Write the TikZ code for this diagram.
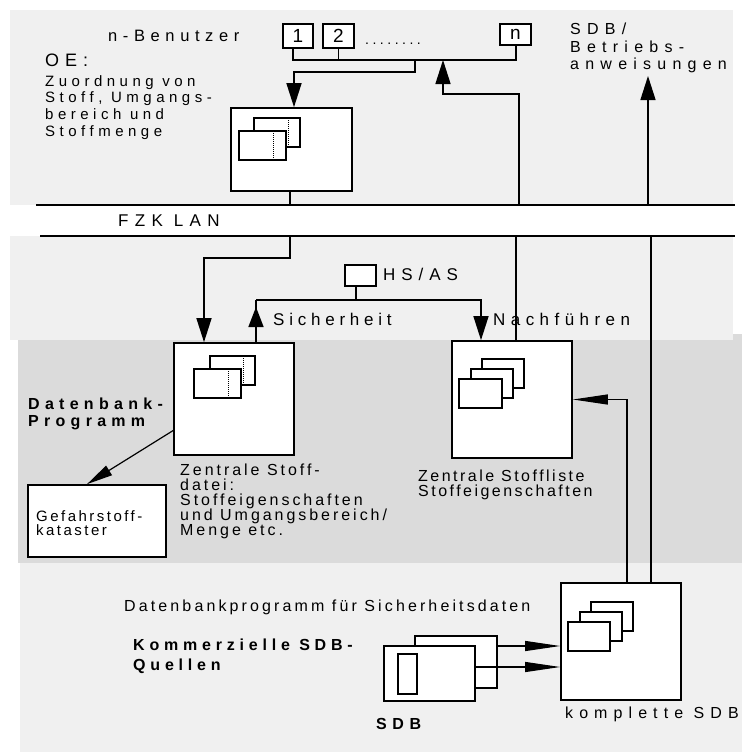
\documentclass[tikz,border=0pt]{standalone}
\usepackage{fontspec}
\setmainfont{Liberation Sans}
\usetikzlibrary{arrows.meta}
\definecolor{lightbg}{gray}{0.94}
\definecolor{darkbg}{gray}{0.86}
\newcommand{\tf}[3]{\fontsize{#1}{#2}\selectfont\addfontfeature{LetterSpace=#3}\lineskiplimit=-6pt}
\begin{document}
\begin{tikzpicture}[x=1pt,y=-1pt,
  bx/.style={draw, line width=1.7pt, fill=white, inner sep=0pt},
  conn/.style={line width=1.5pt},
  ahead/.style={-{Triangle[length=24pt,width=15pt]}},
  thinhead/.style={-{Triangle[length=35pt,width=10pt]}},
  lbl/.style={inner sep=0pt, anchor=base west},
  blk/.style={inner sep=0pt, anchor=north west, align=left},
  sm/.style={draw, line width=1.4pt, fill=white},
  dt/.style={line width=0.9pt, dash pattern=on 1pt off 1pt}
]
\useasboundingbox (0,0) rectangle (742,753);
% backgrounds
\fill[lightbg] (10,10) rectangle (733,205);
\fill[lightbg] (10,236) rectangle (733,340);
\fill[darkbg] (18,340) rectangle (742,563);
\fill[darkbg] (733,334) rectangle (742,340);
\fill[lightbg] (20,563) rectangle (742,752);

% main boxes
\node[bx, minimum width=121pt, minimum height=83pt] (oe) at (291.5,149.5) {};
\node[bx, minimum width=120pt, minimum height=112pt] (zsd) at (234,399) {};
\node[bx, minimum width=120pt, minimum height=117pt] (zsl) at (512,399.5) {};
\node[bx, minimum width=120pt, minimum height=117pt] (ksdb) at (621,641.5) {};
\node[bx, minimum width=138pt, minimum height=72pt] (gk) at (97,521) {};
\node[bx, minimum width=31pt, minimum height=21pt] (hs) at (360.5,275.5) {};
\node[bx, minimum width=30pt, minimum height=24pt, font=\fontsize{19}{19}\selectfont] (u1) at (298,36) {1};
\node[bx, minimum width=31pt, minimum height=24pt, font=\fontsize{19}{19}\selectfont] (u2) at (338.5,36) {2};
\node[bx, minimum width=31pt, minimum height=21pt, font=\fontsize{19}{19}\selectfont] (un) at (515.5,34.5) {n};

% inner pictograms
\draw[sm] (254,118) rectangle (300,147); \draw[dt] (288,118) -- (288,147);
\draw[sm] (239,131) rectangle (286,160); \draw[dt] (273,131) -- (273,160);
\draw[sm] (210,356) rectangle (255,385); \draw[dt] (243,356) -- (243,385);
\draw[sm] (194,369) rectangle (241,398); \draw[dt] (228,369) -- (228,398);
\draw[sm] (482,359) rectangle (524,388);
\draw[sm] (471,369) rectangle (513,398);
\draw[sm] (459,379) rectangle (502,408);
\draw[sm] (591,602) rectangle (633,631);
\draw[sm] (580,612) rectangle (622,641);
\draw[sm] (568,622) rectangle (610,651);
\node[bx, line width=1.4pt, minimum width=82pt, minimum height=52pt] (sdbb) at (456,662) {};
\node[bx, line width=1.4pt, minimum width=91pt, minimum height=55pt] (sdbf) at (429.5,673.5) {};
\draw[sm] (398,654) rectangle (417,694);

% LAN
\coordinate (lanTL) at (36,205); \coordinate (lanTR) at (735,205);
\coordinate (lanBL) at (40,236); \coordinate (lanBR) at (735,236);
\draw[conn] (lanTL) -- (lanTR);
\draw[conn] (lanBL) -- (lanBR);

% texts
\node[lbl, font=\tf{16.5}{16.5}{34}] (nben) at (108,41) {n-Benutzer};
\node[lbl, font=\tf{18}{18}{33}] (oet) at (45,66.7) {OE:};
\node[blk, font=\tf{15}{16.7}{30}] (zuo) at (45,75) {Zuordnung von\\Stoff, Umgangs-\\bereich und\\Stoffmenge};
\node[lbl, font=\tf{14}{14}{25}] (dots) at (365,44) {........};
\node[blk, font=\tf{16}{17.8}{39}] (sdbt) at (570,22.6) {SDB/\\Betriebs-\\anweisungen};
\node[lbl, font=\tf{17}{17}{37}] (lan) at (118,226.7) {FZK LAN};
\node[lbl, font=\tf{17}{17}{35}] (hst) at (383,280.7) {HS/AS};
\node[lbl, font=\tf{17}{17}{28}] (sich) at (273,325) {Sicherheit};
\node[lbl, font=\tf{17}{17}{32}] (nach) at (493,325) {Nachführen};
\node[blk, font=\bfseries\tf{16}{17}{33}] (dbp) at (28,397.6) {Datenbank-\\Programm};
\node[blk, font=\tf{16}{15}{18.5}] (zsdt) at (180,463.3) {Zentrale Stoff-\\datei:\\Stoffeigenschaften\\und Umgangsbereich/\\Menge etc.};
\node[blk, font=\tf{15}{14}{16.5}] (gkt) at (36,510.7) {Gefahrstoff-\\kataster};
\node[blk, font=\tf{16}{15}{15.5}] (zslt) at (418,469.3) {Zentrale Stoffliste\\Stoffeigenschaften};
\node[lbl, font=\tf{16}{16}{19.5}] (dbs) at (124,611.7) {Datenbankprogramm für Sicherheitsdaten};
\node[blk, font=\bfseries\tf{16}{20}{30}] (kom) at (133,638.3) {Kommerzielle SDB-\\Quellen};
\node[lbl, font=\bfseries\tf{16}{16}{35}] (sdbl) at (376,729.3) {SDB};
\node[lbl, font=\tf{16}{16}{38}] (kpl) at (565,718) {komplette SDB};

% connectors top
\coordinate (busL) at (293,60); \coordinate (busR) at (516,60);
\draw[conn] (u1.south -| busL) -- (busL) -- (busR) -- (un.south -| busR);
\draw[conn] (u2.south) -- (u2.south |- busL);
\coordinate (tap) at (415,60);
\draw[conn, ahead] (tap) -- (415,72) -| ([xshift=2.5pt]oe.north);
\coordinate (lanT1) at (519,205); \coordinate (tap2) at (443,60);
\draw[conn, ahead] (lanT1) -- (519,94) -| (tap2);
\draw[conn] ([xshift=-1.5pt]oe.south) -- ([xshift=-1.5pt]oe.south |- lanTL);
\coordinate (lanT2) at (648,205); \coordinate (sdbTip) at (648,76);
\draw[conn, ahead] (lanT2) -- (sdbTip);

% middle connectors
\coordinate (lanB1) at (290,236);
\draw[conn, ahead] (lanB1) -- (290,258) -| ([xshift=-30pt]zsd.north);
\coordinate (sj) at (256,300);
\draw[conn] ([xshift=22pt]zsd.north) -- (sj);
\draw[conn, -{Triangle[length=20pt,width=15pt]}, shorten >=7pt] ([xshift=22pt]zsd.north) -- (sj);
\draw[conn, ahead] (sj) -| ([xshift=-31pt]zsl.north);
\draw[conn] ([xshift=-4.5pt]hs.south) -- ([xshift=-4.5pt]hs.south |- sj);
\coordinate (lanB2) at (516,236);
\draw[conn] (lanB2) -- (lanB2 |- zsl.north);
\coordinate (lanB3) at (651,236);
\draw[conn] (lanB3) -- (lanB3 |- ksdb.north);
\draw[line width=1.2pt, thinhead] ([xshift=6pt]ksdb.north) |- (zsl.east);
\coordinate (gs) at (174,430);
\draw[line width=1.2pt, -{Triangle[length=26pt,width=11pt]}] (gs) -- ([xshift=-10pt]gk.north);

% SDB arrows
\coordinate (s1) at (497,646); \coordinate (s2) at (475,667);
\draw[line width=1.1pt, thinhead] (s1) -- (s1 -| ksdb.west);
\draw[line width=1.1pt, thinhead] (s2) -- (s2 -| ksdb.west);
\end{tikzpicture}
\end{document}
